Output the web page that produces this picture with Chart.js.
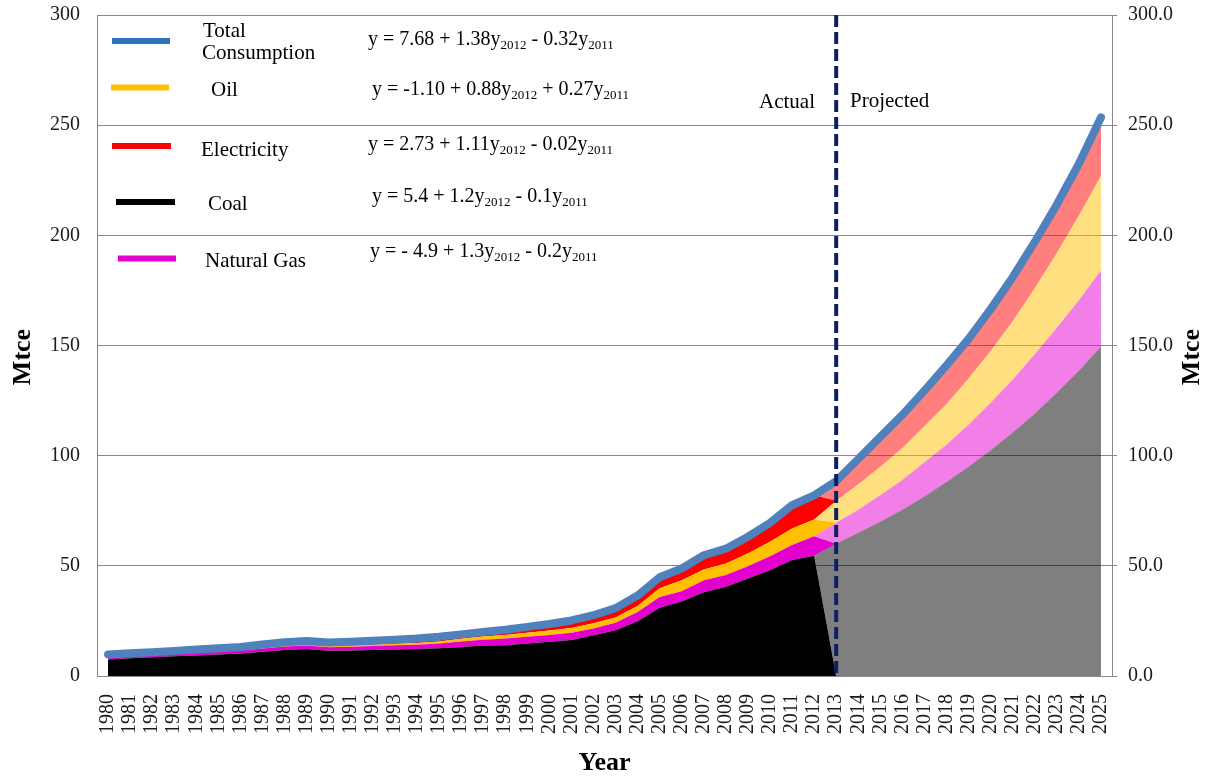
<!DOCTYPE html>
<html>
<head>
<meta charset="utf-8">
<script src="https://cdn.jsdelivr.net/npm/chart.js@4.4.1/dist/chart.umd.min.js"></script>
<style>
  html, body { margin: 0; padding: 0; background: #ffffff; }
  #wrap { width: 1212px; height: 776px; }
</style>
</head>
<body>
<div id="wrap"><canvas id="c" width="1212" height="776"></canvas></div>
<script>
// Categories: years on the horizontal axis
const years = [
  '1980','1981','1982','1983','1984','1985','1986','1987','1988','1989',
  '1990','1991','1992','1993','1994','1995','1996','1997','1998','1999',
  '2000','2001','2002','2003','2004','2005','2006','2007','2008','2009',
  '2010','2011','2012','2013','2014','2015','2016','2017','2018','2019',
  '2020','2021','2022','2023','2024','2025'
];

// Actual consumption by source, 1980-2012 (Mtce)
const coalActual = [7.5, 8.0, 8.5, 9.0, 9.3, 9.8, 10.2, 11.0, 11.8, 12.2, 11.5, 11.6, 11.8, 12.0, 12.2, 12.6, 13.2, 13.8, 14.0, 14.8, 15.6, 16.3, 18.5, 20.8, 24.8, 31.0, 33.8, 38.0, 40.5, 44.3, 48.0, 52.6, 54.6];
const gasActual  = [1.2, 1.2, 1.2, 1.2, 1.3, 1.4, 1.4, 1.5, 1.6, 1.6, 1.6, 1.7, 1.8, 1.9, 2.0, 2.2, 2.5, 2.6, 3.0, 3.0, 3.0, 3.3, 3.1, 3.4, 4.2, 4.8, 4.7, 5.5, 5.3, 5.5, 6.4, 6.8, 8.8];
const oilActual  = [0.3, 0.3, 0.3, 0.3, 0.3, 0.3, 0.3, 0.3, 0.4, 0.4, 0.4, 0.5, 0.6, 0.7, 0.8, 0.9, 1.2, 1.5, 1.6, 1.8, 2.0, 2.2, 2.3, 2.4, 2.8, 4.0, 5.0, 4.8, 5.3, 5.8, 6.5, 7.5, 7.6];
const elecActual = [0.8, 0.8, 0.8, 0.9, 1.1, 1.1, 1.3, 1.5, 1.5, 1.7, 1.7, 1.7, 1.8, 1.9, 2.0, 2.1, 2.0, 2.1, 2.4, 2.7, 3.0, 3.4, 3.7, 4.2, 4.7, 5.0, 5.3, 6.5, 6.7, 7.6, 8.6, 10.6, 11.0];

// Projected consumption by source, 2013-2025 (Mtce)
const coalProjected = [60, 65, 70, 75.5, 81.5, 88, 95, 102.5, 110.5, 119, 128.5, 138.5, 149.5];
const gasProjected  = [9.5, 10.5, 12, 13.5, 15.5, 17, 19, 21.5, 24, 27, 29.5, 32, 34.5];
const oilProjected  = [10, 11.5, 13, 14.5, 16.5, 18.5, 21, 23.5, 26.5, 30, 34, 38.5, 43];
const elecProjected = [7.5, 10, 12, 13.5, 14.5, 16, 16.5, 17.5, 18.5, 19.5, 20.5, 22, 24.5];

// Total consumption, 1980-2025 (Mtce)
const totalConsumption = [
  9.8, 10.3, 10.8, 11.4, 12.0, 12.6, 13.2, 14.3, 15.3, 15.9,
  15.2, 15.5, 16.0, 16.5, 17.0, 17.8, 18.9, 20.0, 21.0, 22.3,
  23.6, 25.2, 27.6, 30.8, 36.5, 44.8, 48.8, 54.8, 57.8, 63.2,
  69.5, 77.5, 82.0, 88.5, 98.5, 108.5, 118.5, 129.5, 141, 153,
  166.5, 181, 197, 214, 232.5, 253.5
];

// Axis ticks
const yTicks = [0, 50, 100, 150, 200, 250, 300];
const splitYear = '2013';

// Legend entries and fitted equations
const legendNames = [['Total', 'Consumption'], ['Oil'], ['Electricity'], ['Coal'], ['Natural Gas']];
const equations = [
  ['y = 7.68 + 1.38y', '2012', ' - 0.32y', '2011'],
  ['y = -1.10 + 0.88y', '2012', ' + 0.27y', '2011'],
  ['y = 2.73 + 1.11y', '2012', ' - 0.02y', '2011'],
  ['y = 5.4 + 1.2y', '2012', ' - 0.1y', '2011'],
  ['y = - 4.9 + 1.3y', '2012', ' - 0.2y', '2011']
];

// Actual series are zero over the projection, projected series zero before it
const nActual = coalActual.length;
const nProj = coalProjected.length;
const withTail = a => a.concat(new Array(nProj).fill(0));
const withHead = a => new Array(nActual).fill(0).concat(a);

const SERIF = "'Liberation Serif', 'Times New Roman', serif";

function area(data, color, fillTo) {
  return {
    data, yAxisID: 'y', fill: fillTo, backgroundColor: color,
    borderColor: 'rgba(0,0,0,0)', borderWidth: 0, pointRadius: 0, tension: 0
  };
}

const datasets = [
  area(withTail(coalActual), '#000000', 'origin'),
  area(withHead(coalProjected), 'rgba(0,0,0,0.5)', '-1'),
  area(withTail(gasActual), '#e300cf', '-1'),
  area(withHead(gasProjected), 'rgba(227,0,207,0.5)', '-1'),
  area(withTail(oilActual), '#ffc000', '-1'),
  area(withHead(oilProjected), 'rgba(255,192,0,0.5)', '-1'),
  area(withTail(elecActual), '#ff0000', '-1'),
  area(withHead(elecProjected), 'rgba(255,0,0,0.5)', '-1'),
  {
    data: totalConsumption, yAxisID: 'y2', fill: false, order: -1,
    borderColor: '#4f81bd', borderWidth: 8, borderCapStyle: 'round',
    borderJoinStyle: 'round', pointRadius: 0, tension: 0
  }
];

// Legend block, equations, divider, section captions and axis titles
const overlay = {
  id: 'overlay',
  afterDatasetsDraw(chart) {
    const ctx = chart.ctx;
    const area = chart.chartArea;
    const xs = chart.scales.x;
    const x = xs.getPixelForValue(years.indexOf(splitYear));
    ctx.save();
    ctx.strokeStyle = '#0a2060';
    ctx.lineWidth = 4;
    ctx.setLineDash([12, 5]);
    ctx.beginPath();
    ctx.moveTo(x, area.top);
    ctx.lineTo(x, area.bottom);
    ctx.stroke();
    ctx.restore();
  },
  afterDraw(chart) {
    const ctx = chart.ctx;
    ctx.save();
    ctx.fillStyle = '#000';
    ctx.textBaseline = 'alphabetic';
    ctx.textAlign = 'left';

    // legend swatches
    const swatches = [
      {c: '#2f70c0', x0: 112, x1: 170, y: 41},
      {c: '#ffc000', x0: 111, x1: 169, y: 87.5},
      {c: '#ff0000', x0: 112, x1: 171, y: 146},
      {c: '#000000', x0: 116, x1: 175, y: 202},
      {c: '#e600cc', x0: 118, x1: 176, y: 258.5}
    ];
    swatches.forEach(s => {
      ctx.strokeStyle = s.c;
      ctx.lineWidth = 6;
      ctx.beginPath();
      ctx.moveTo(s.x0, s.y);
      ctx.lineTo(s.x1, s.y);
      ctx.stroke();
    });

    // legend names
    ctx.font = '21px ' + SERIF;
    const namePos = [[[203, 36.5], [202, 58.5]], [[211, 95.5]], [[201, 156]], [[208, 210]], [[205, 267]]];
    legendNames.forEach((lines, i) => {
      lines.forEach((t, j) => ctx.fillText(t, namePos[i][j][0], namePos[i][j][1]));
    });

    // equations with subscripts
    const eqPos = [[368, 45], [372, 94.5], [368, 150], [372, 202], [370, 257]];
    equations.forEach((parts, i) => {
      let px = eqPos[i][0];
      const py = eqPos[i][1];
      parts.forEach((p, k) => {
        const sub = k % 2 === 1;
        ctx.font = (sub ? '13px ' : '20px ') + SERIF;
        ctx.fillText(p, px, py + (sub ? 4 : 0));
        px += ctx.measureText(p).width;
      });
    });

    // section captions
    ctx.font = '21px ' + SERIF;
    ctx.fillText('Actual', 759, 108);
    ctx.fillText('Projected', 850, 107);

    // axis titles
    ctx.font = 'bold 26px ' + SERIF;
    ctx.textAlign = 'center';
    ctx.fillText('Year', 604.5, 770);
    ctx.textBaseline = 'middle';
    [[23, 357], [1192, 357]].forEach(([tx, ty]) => {
      ctx.save();
      ctx.translate(tx, ty);
      ctx.rotate(-Math.PI / 2);
      ctx.fillText('Mtce', 0, 0);
      ctx.restore();
    });
    ctx.restore();
  }
};

const tickFont = {family: SERIF, size: 20};

// vertical axes keep a fixed width and add no extra top/bottom room
const fixVertical = w => s => { s.width = w; s.paddingTop = 0; s.paddingBottom = 0; };

new Chart(document.getElementById('c'), {
  type: 'line',
  data: {labels: years, datasets},
  plugins: [overlay],
  options: {
    responsive: false,
    animation: false,
    devicePixelRatio: 1,
    layout: {padding: {top: 15, left: 0, right: 0, bottom: 0}},
    plugins: {legend: {display: false}, tooltip: {enabled: false}},
    scales: {
      x: {
        type: 'category',
        offset: true,
        grid: {display: false},
        border: {display: true, color: '#878787', width: 1},
        ticks: {autoSkip: false, minRotation: 90, maxRotation: 90, padding: 10, color: '#1a1a1a', font: tickFont},
        afterFit: s => { s.height = 100; s.paddingLeft = 0; s.paddingRight = 0; }
      },
      y: {
        position: 'left',
        stacked: true,
        min: 0, max: 300,
        afterBuildTicks: s => { s.ticks = yTicks.map(v => ({value: v})); },
        grid: {color: '#878787', lineWidth: 1, drawTicks: false},
        border: {display: true, color: '#878787', width: 1},
        ticks: {padding: 17, color: '#1a1a1a', font: tickFont},
        afterFit: fixVertical(97)
      },
      y2: {
        position: 'right',
        min: 0, max: 300,
        afterBuildTicks: s => { s.ticks = yTicks.map(v => ({value: v})); },
        grid: {drawOnChartArea: false, drawTicks: true, tickLength: 5, color: '#878787'},
        border: {display: true, color: '#878787', width: 1},
        ticks: {padding: 11, color: '#1a1a1a', font: tickFont, callback: v => Number(v).toFixed(1)},
        afterFit: fixVertical(100)
      }
    }
  }
});
</script>
</body>
</html>
